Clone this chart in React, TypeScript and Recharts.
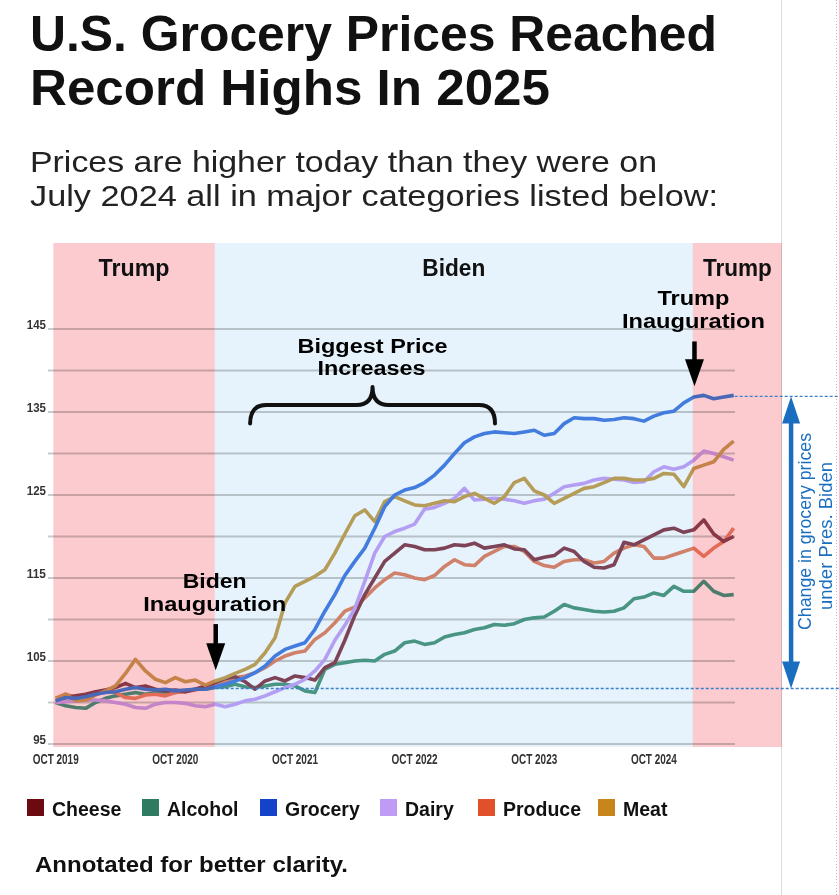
import React from 'react';
import { LineChart, Line, XAxis, YAxis, ReferenceLine, ReferenceArea, Legend } from 'recharts';

// ---------- data ----------
// month index: 0 = Oct 2019, 12 = Oct 2020, ... 68 = Jun 2025
const MONTH_INDEX = [
  0, 1, 2, 3, 4, 5, 6, 7, 8, 9, 10, 11, 12, 13, 14, 15, 16, 17, 18, 19, 20, 21, 22, 23,
  24, 25, 26, 27, 28, 29, 30, 31, 32, 33, 34, 35, 36, 37, 38, 39, 40, 41, 42, 43, 44, 45, 46, 47,
  48, 49, 50, 51, 52, 53, 54, 55, 56, 57, 58, 59, 60, 61, 62, 63, 64, 65, 66, 67, 68,
];

const X_TICKS = [0, 12, 24, 36, 48, 60];
const X_TICK_LABELS = ['OCT 2019', 'OCT 2020', 'OCT 2021', 'OCT 2022', 'OCT 2023', 'OCT 2024'];
const Y_TICKS = [95, 105, 115, 125, 135, 145];
const GRID_VALUES = [95, 100, 105, 110, 115, 120, 125, 130, 135, 140, 145];

const GROCERY = [
  100.2, 100.6, 100.5, 100.7, 101.0, 101.2, 101.3, 101.6, 101.8, 101.6, 101.5, 101.6, 101.4, 101.5, 101.6, 101.6,
  101.9, 102.2, 102.6, 103.0, 103.6, 104.4, 105.6, 106.4, 106.8, 107.2, 108.8, 111.0, 113.0, 115.3, 117.0, 118.6,
  121.0, 123.6, 125.0, 125.6, 125.9, 126.5, 127.4, 128.6, 130.0, 131.3, 132.0, 132.4, 132.6, 132.5, 132.4, 132.6,
  132.8, 132.2, 132.4, 133.6, 134.3, 134.2, 134.2, 134.0, 134.1, 134.3, 134.2, 133.9, 134.5, 134.9, 135.1, 136.1,
  136.8, 137.0, 136.6, 136.8, 137.0,
];
const MEAT = [
  100.5, 101.0, 100.2, 100.3, 100.9, 101.4, 102.0, 103.5, 105.2, 103.8, 102.8, 102.4, 103.0, 102.5, 102.7, 102.1,
  102.6, 103.0, 103.5, 104.0, 104.6, 106.0, 107.8, 112.0, 114.0, 114.6, 115.2, 116.0, 118.0, 120.3, 122.5, 123.2,
  121.8, 124.2, 124.8, 124.3, 123.8, 123.7, 124.0, 124.3, 124.2, 124.8, 125.2, 124.6, 124.0, 124.8, 126.5, 127.0,
  125.5, 125.0, 124.0, 124.6, 125.2, 125.8, 126.0, 126.5, 127.0, 127.0, 126.8, 126.8, 127.0, 127.6, 127.5, 126.0,
  128.2, 128.6, 129.0, 130.5, 131.5,
];
const DAIRY = [
  100.0, 100.1, 100.2, 100.3, 100.3, 100.2, 100.0, 99.8, 99.4, 99.3, 99.8, 100.0, 100.0, 99.9, 99.6, 99.5,
  99.8, 99.5, 99.8, 100.2, 100.4, 100.8, 101.3, 101.8, 102.2, 102.8, 103.8, 105.2, 107.5, 109.3, 111.3, 114.6,
  118.0, 120.0, 120.6, 121.0, 121.5, 123.3, 123.5, 124.0, 124.6, 125.8, 124.4, 124.5, 124.6, 124.5, 124.3, 124.0,
  124.3, 124.5, 125.2, 126.0, 126.2, 126.4, 126.8, 127.0, 126.9, 126.8, 126.5, 126.6, 127.8, 128.4, 128.1, 128.4,
  129.2, 130.3, 130.0, 129.6, 129.2,
];
const CHEESE = [
  100.2, 100.6, 100.8, 101.0, 101.3, 101.5, 101.8, 102.3, 101.8, 102.0, 101.6, 101.4, 101.5, 101.3, 101.6, 102.0,
  102.4, 102.9, 103.1, 102.5, 101.6, 102.6, 103.0, 102.6, 103.2, 103.0, 102.7, 104.2, 104.8, 107.5, 110.5, 113.0,
  115.0, 117.0, 118.0, 119.0, 118.8, 118.4, 118.4, 118.6, 119.0, 118.9, 119.2, 118.6, 118.8, 119.0, 118.5, 118.4,
  117.2, 117.5, 117.7, 118.6, 118.2, 117.0, 116.3, 116.2, 116.6, 119.3, 119.0, 119.6, 120.2, 120.8, 121.0, 120.5,
  120.8, 122.0, 120.3, 119.4, 120.0,
];
const PRODUCE = [
  100.5, 101.0, 100.6, 100.8, 101.2, 101.5, 101.2, 100.6, 100.5, 100.9, 101.0, 100.8, 101.2, 101.3, 101.5, 101.8,
  102.2, 102.6, 103.0, 103.2, 103.6, 104.2, 105.0, 105.6, 106.0, 106.2, 107.6, 108.4, 109.6, 111.0, 111.5, 112.6,
  113.8, 114.8, 115.6, 115.4, 115.0, 114.8, 115.3, 116.4, 117.2, 116.6, 116.5, 117.6, 118.2, 118.8, 118.8, 118.2,
  117.0, 116.5, 116.3, 117.0, 117.2, 117.2, 116.8, 117.0, 118.0, 118.6, 119.0, 118.8, 117.4, 117.4, 117.8, 118.2,
  118.6, 117.6, 118.6, 119.4, 121.0,
];
const ALCOHOL = [
  100.0, 99.6, 99.4, 99.3, 100.0, 100.5, 100.8, 101.0, 101.2, 101.0, 101.2, 101.3, 101.2, 101.4, 101.6, 101.6,
  101.8, 101.9, 102.2, 101.9, 101.8, 102.0, 102.2, 102.2, 102.0, 101.4, 101.2, 104.0, 104.6, 104.8, 105.0, 105.1,
  105.0, 105.8, 106.2, 107.2, 107.4, 107.0, 107.2, 107.9, 108.2, 108.4, 108.8, 109.0, 109.4, 109.3, 109.5, 110.0,
  110.2, 110.3, 111.0, 111.8, 111.4, 111.2, 111.0, 110.9, 111.0, 111.4, 112.5, 112.7, 113.2, 112.9, 114.0, 113.4,
  113.4, 114.6, 113.4, 112.9, 113.0,
];

// presidential periods (in month index)
const PERIOD_NAMES = ['Trump', 'Biden', 'Trump'];
const PERIOD_STARTS = [-0.24, 15.95, 63.9];
const PERIOD_ENDS = [15.95, 63.9, 72.85];

// annotation anchors (data coordinates)
const BIDEN_INAUG_M = 16.05;
const TRUMP_INAUG_M = 64.07;
const BIDEN_START_LEVEL = 101.69;
const TRUMP_START_LEVEL = 136.87;

// ---------- styling ----------
const FONT = "'Liberation Sans', Arial, Helvetica, sans-serif";
const NARROW = "'Liberation Sans Narrow', 'Liberation Sans', Arial, sans-serif";
const X_DOMAIN: [number, number] = [-0.772, 78.565];
const Y_DOMAIN: [number, number] = [94.64, 155.36];

const SERIES = [
  { key: 'alcohol', name: 'Alcohol', values: ALCOHOL, line: '#4f9c84' },
  { key: 'produce', name: 'Produce', values: PRODUCE, line: '#e7876b' },
  { key: 'cheese', name: 'Cheese', values: CHEESE, line: '#8b4657' },
  { key: 'dairy', name: 'Dairy', values: DAIRY, line: '#c8a6f6' },
  { key: 'meat', name: 'Meat', values: MEAT, line: '#c9a459' },
  { key: 'grocery', name: 'Grocery', values: GROCERY, line: '#4a82e2' },
];

const LEGEND_ITEMS = [
  { name: 'Cheese', swatch: '#6c0a12' },
  { name: 'Alcohol', swatch: '#2e7b62' },
  { name: 'Grocery', swatch: '#1442c8' },
  { name: 'Dairy', swatch: '#c09bf5' },
  { name: 'Produce', swatch: '#e0502a' },
  { name: 'Meat', swatch: '#c8861a' },
];
const LEGEND_X = [27, 142, 260, 380, 478, 598];

const PERIOD_FILLS = ['#fbcbd0', '#e6f3fc', '#fbcbd0'];
const PERIOD_LABEL_W = [71, 63, 69];

const ANNOT_SIZE = 20;
const ANNOT_LINE = 22.5;

const rows = MONTH_INDEX.map((m, i) => {
  const r: Record<string, number> = { m };
  SERIES.forEach((s) => {
    r[s.key] = s.values[i];
  });
  return r;
});

// ---------- custom renderers ----------
const YTick = (props: any) => {
  const { x, y, payload } = props;
  const s = String(payload.value);
  return (
    <text
      x={x}
      y={y}
      textAnchor="end"
      fontFamily={NARROW}
      fontWeight={700}
      fontSize={13}
      fill="#333"
      textLength={s.length * 6.4}
      lengthAdjust="spacingAndGlyphs"
    >
      {s}
    </text>
  );
};

const XTick = (props: any) => {
  const { x, y, payload } = props;
  const idx = X_TICKS.indexOf(payload.value);
  const label = idx >= 0 ? X_TICK_LABELS[idx] : '';
  return (
    <text
      x={x}
      y={y + 17}
      textAnchor="middle"
      fontFamily={NARROW}
      fontWeight={700}
      fontSize={14}
      fill="#333"
      textLength={46}
      lengthAdjust="spacingAndGlyphs"
    >
      {label}
    </text>
  );
};

function periodShape(label: string, fill: string, labelWidth: number) {
  return (p: any) => (
    <g>
      <rect x={p.x} y={p.y} width={p.width} height={p.height} fill={fill} style={{ mixBlendMode: 'multiply' }} />
      <text
        x={p.x + p.width / 2}
        y={p.y + 33}
        textAnchor="middle"
        fontFamily={FONT}
        fontWeight={700}
        fontSize={23}
        fill="#111"
        textLength={labelWidth}
        lengthAdjust="spacingAndGlyphs"
      >
        {label}
      </text>
    </g>
  );
}

function downArrowShape(lines: string[], widths: number[]) {
  return (p: any) => {
    const cx = p.x + p.width / 2;
    const top = p.y;
    const tip = p.y + p.height;
    return (
      <g>
        <line x1={cx} y1={top} x2={cx} y2={tip - 20} stroke="#000" strokeWidth={4.5} />
        <polygon points={`${cx - 9.5},${tip - 27} ${cx + 9.5},${tip - 27} ${cx},${tip}`} fill="#000" />
        {lines.map((t, i) => (
          <text
            key={i}
            x={cx - 1}
            y={top - 13.5 - (lines.length - 1 - i) * ANNOT_LINE}
            textAnchor="middle"
            fontFamily={FONT}
            fontWeight={700}
            fontSize={ANNOT_SIZE}
            fill="#000"
            textLength={widths[i]}
            lengthAdjust="spacingAndGlyphs"
          >
            {t}
          </text>
        ))}
      </g>
    );
  };
}

const braceShape = (p: any) => {
  const x0 = p.x;
  const x1 = p.x + p.width;
  const top = p.y;
  const end = p.y + p.height;
  const bar = top + 18;
  const xm = (x0 + x1) / 2;
  const r = 16;
  const d = `M${x0},${end} Q${x0},${bar} ${x0 + r},${bar} L${xm - r},${bar} Q${xm},${bar} ${xm},${top} Q${xm},${bar} ${xm + r},${bar} L${x1 - r},${bar} Q${x1},${bar} ${x1},${end}`;
  return (
    <g>
      <path d={d} fill="none" stroke="#111" strokeWidth={4} strokeLinecap="round" strokeLinejoin="round" />
      <text x={xm} y={top - 12 - ANNOT_LINE} textAnchor="middle" fontFamily={FONT} fontWeight={700} fontSize={ANNOT_SIZE} fill="#000" textLength={150} lengthAdjust="spacingAndGlyphs">
        Biggest Price
      </text>
      <text x={xm - 1} y={top - 12} textAnchor="middle" fontFamily={FONT} fontWeight={700} fontSize={ANNOT_SIZE} fill="#000" textLength={108} lengthAdjust="spacingAndGlyphs">
        Increases
      </text>
    </g>
  );
};

const changeArrowShape = (p: any) => {
  const cx = p.x + p.width / 2;
  const top = p.y;
  const bot = p.y + p.height;
  const mid = (top + bot) / 2;
  const c = '#1a6ebf';
  return (
    <g>
      <line x1={cx} y1={top + 20} x2={cx} y2={bot - 20} stroke={c} strokeWidth={4.5} />
      <polygon points={`${cx},${top} ${cx - 9},${top + 27} ${cx + 9},${top + 27}`} fill={c} />
      <polygon points={`${cx},${bot} ${cx - 9},${bot - 27} ${cx + 9},${bot - 27}`} fill={c} />
      <text
        transform={`translate(${cx + 20},${mid - 11}) rotate(-90)`}
        textAnchor="middle"
        fontFamily={FONT}
        fontSize={18.5}
        fill={c}
        textLength={197}
        lengthAdjust="spacingAndGlyphs"
      >
        Change in grocery prices
      </text>
      <text
        transform={`translate(${cx + 40.5},${mid - 6.5}) rotate(-90)`}
        textAnchor="middle"
        fontFamily={FONT}
        fontSize={18.5}
        fill={c}
        textLength={148}
        lengthAdjust="spacingAndGlyphs"
      >
        under Pres. Biden
      </text>
    </g>
  );
};

const LegendContent = () => (
  <svg width={839} height={30} style={{ display: 'block' }}>
    {LEGEND_ITEMS.map((it, i) => (
      <g key={it.name}>
        <rect x={LEGEND_X[i]} y={2} width={17} height={17} fill={it.swatch} />
        <text x={LEGEND_X[i] + 25} y={19} fontFamily={FONT} fontWeight={700} fontSize={19.5} fill="#111">
          {it.name}
        </text>
      </g>
    ))}
  </svg>
);

export default function App() {
  return (
    <div style={{ position: 'absolute', left: 0, top: 0, width: 839, height: 895, background: '#fff', overflow: 'hidden' }}>
      <svg width={839} height={895} style={{ position: 'absolute', left: 0, top: 0 }}>
        <line x1={781.5} y1={0} x2={781.5} y2={895} stroke="#dcdcdc" strokeWidth={1} />
        <line x1={836.5} y1={0} x2={836.5} y2={895} stroke="#bdbdbd" strokeWidth={1} strokeDasharray="1 2" />
        <text x={30} y={51} fontFamily={FONT} fontWeight={700} fontSize={50} fill="#111" textLength={687} lengthAdjust="spacingAndGlyphs">
          U.S. Grocery Prices Reached
        </text>
        <text x={30} y={105} fontFamily={FONT} fontWeight={700} fontSize={50} fill="#111" textLength={520} lengthAdjust="spacingAndGlyphs">
          Record Highs In 2025
        </text>
        <text x={30} y={172} fontFamily={NARROW} fontSize={29.5} fill="#222" textLength={627} lengthAdjust="spacingAndGlyphs">
          Prices are higher today than they were on
        </text>
        <text x={30} y={206} fontFamily={NARROW} fontSize={29.5} fill="#222" textLength={688} lengthAdjust="spacingAndGlyphs">
          July 2024 all in major categories listed below:
        </text>
        <text x={35} y={872} fontFamily={FONT} fontWeight={700} fontSize={22} fill="#111" textLength={313} lengthAdjust="spacingAndGlyphs">
          Annotated for better clarity.
        </text>
      </svg>
      <div style={{ position: 'absolute', left: 0, top: 0 }}>
        <LineChart width={839} height={895} data={rows} margin={{ top: 243, right: 0, bottom: 118, left: 0 }}>
          <XAxis
            type="number"
            dataKey="m"
            domain={X_DOMAIN}
            allowDataOverflow
            ticks={X_TICKS}
            tick={<XTick />}
            axisLine={false}
            tickLine={false}
            tickSize={0}
            tickMargin={0}
            height={30}
            interval={0}
          />
          <YAxis
            type="number"
            domain={Y_DOMAIN}
            allowDataOverflow
            ticks={Y_TICKS}
            tick={<YTick />}
            axisLine={false}
            tickLine={false}
            tickSize={0}
            tickMargin={2}
            width={48}
            interval={0}
          />
          {GRID_VALUES.map((v) => (
            <ReferenceLine
              key={`g${v}`}
              segment={[
                { x: X_DOMAIN[0], y: v },
                { x: 68.13, y: v },
              ]}
              stroke="#cbcbcb"
              strokeWidth={2}
              zIndex={-50}
            />
          ))}
          {SERIES.map((s) => (
            <Line
              key={s.key}
              type="linear"
              dataKey={s.key}
              name={s.name}
              stroke={s.line}
              strokeWidth={3.6}
              dot={false}
              activeDot={false}
              isAnimationActive={false}
              strokeLinejoin="round"
            />
          ))}
          {PERIOD_NAMES.map((name, i) => (
            <ReferenceArea
              key={`p${i}`}
              x1={PERIOD_STARTS[i]}
              x2={PERIOD_ENDS[i]}
              y1={Y_DOMAIN[0]}
              y2={Y_DOMAIN[1]}
              fill={PERIOD_FILLS[i]}
              fillOpacity={1}
              ifOverflow="visible"
              shape={periodShape(name, PERIOD_FILLS[i], PERIOD_LABEL_W[i])}
              zIndex={450}
            />
          ))}
          <ReferenceArea
            x1={19.5}
            x2={44.06}
            y1={133.6}
            y2={138.0}
            ifOverflow="visible"
            shape={braceShape}
            zIndex={460}
          />
          <ReferenceArea
            x1={BIDEN_INAUG_M - 0.5}
            x2={BIDEN_INAUG_M + 0.5}
            y1={103.9}
            y2={109.45}
            ifOverflow="visible"
            shape={downArrowShape(['Biden', 'Inauguration'], [64, 143])}
            zIndex={460}
          />
          <ReferenceArea
            x1={TRUMP_INAUG_M - 0.5}
            x2={TRUMP_INAUG_M + 0.5}
            y1={138.1}
            y2={143.5}
            ifOverflow="visible"
            shape={downArrowShape(['Trump', 'Inauguration'], [72, 143])}
            zIndex={460}
          />
          <ReferenceLine
            segment={[
              { x: 68.1, y: TRUMP_START_LEVEL },
              { x: X_DOMAIN[1], y: TRUMP_START_LEVEL },
            ]}
            stroke="#3b80c6"
            strokeWidth={1.3}
            strokeDasharray="3 2"
            ifOverflow="visible"
            zIndex={470}
          />
          <ReferenceLine
            segment={[
              { x: BIDEN_INAUG_M, y: BIDEN_START_LEVEL },
              { x: X_DOMAIN[1], y: BIDEN_START_LEVEL },
            ]}
            stroke="#3b80c6"
            strokeWidth={1.3}
            strokeDasharray="3 2"
            ifOverflow="visible"
            zIndex={470}
          />
          <ReferenceArea
            x1={73.26}
            x2={74.26}
            y1={BIDEN_START_LEVEL}
            y2={TRUMP_START_LEVEL}
            ifOverflow="visible"
            shape={changeArrowShape}
            zIndex={480}
          />
          <Legend
            layout="horizontal"
            verticalAlign="middle"
            align="center"
            wrapperStyle={{ top: 797, left: 0, width: 839, height: 30 }}
            content={() => <LegendContent />}
          />
        </LineChart>
      </div>
    </div>
  );
}
